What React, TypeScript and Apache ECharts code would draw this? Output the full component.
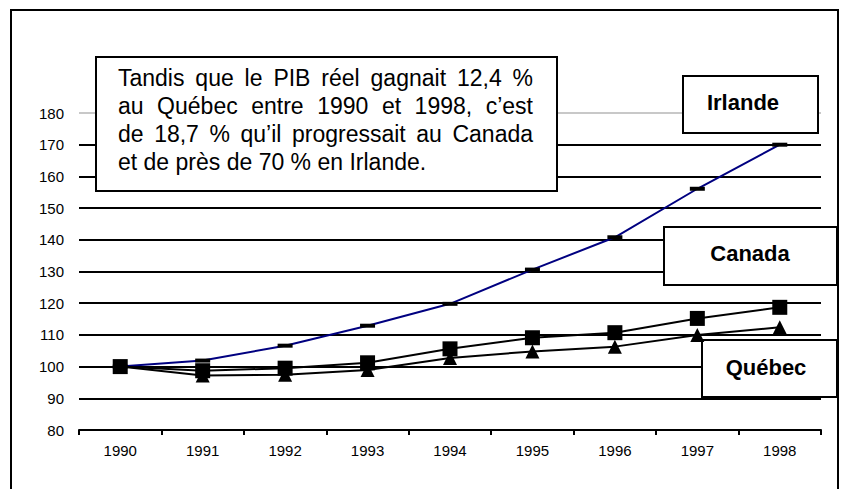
import React, { useEffect, useRef } from "react";
import * as echarts from "echarts";

const years = ["1990", "1991", "1992", "1993", "1994", "1995", "1996", "1997", "1998"];
const irlande = [100, 101.9, 106.6, 112.9, 119.8, 130.6, 140.8, 156.1, 170];
const canada = [100, 98.7, 99.5, 101.2, 105.6, 109.1, 110.7, 115.2, 118.7];
const quebec = [100, 97.2, 97.4, 98.9, 102.7, 104.8, 106.3, 110, 112.4];

const noteLines = [
  "Tandis que le PIB réel gagnait 12,4 %",
  "au Québec entre 1990 et 1998, c’est",
  "de 18,7 % qu’il progressait au Canada",
  "et de près de 70 % en Irlande.",
];
const seriesLabels = ["Irlande", "Canada", "Québec"];

const FONT = '"Liberation Sans", Arial, Helvetica, sans-serif';

export default function App() {
  const ref = useRef<HTMLDivElement>(null);
  useEffect(() => {
    if (!ref.current) return;
    const chart = echarts.init(ref.current, null, { renderer: "svg" });

    const noteSize = 23;
    const canvas = document.createElement("canvas");
    const ctx = canvas.getContext("2d")!;
    ctx.font = `${noteSize}px "Liberation Sans"`;
    const left = 118;
    const right = 533;
    const baseY = [89, 117, 145, 173];
    const noteEls: any[] = [];
    noteLines.forEach((line, i) => {
      const words = line.split(" ");
      const widths = words.map((w) => ctx.measureText(w).width);
      const total = widths.reduce((a, b) => a + b, 0);
      const justify = i < noteLines.length - 1;
      const gap = justify ? (right - left - total) / (words.length - 1) : ctx.measureText(" ").width;
      let x = left;
      words.forEach((w, j) => {
        noteEls.push({
          type: "text",
          x,
          y: baseY[i],
          z: 10,
          style: {
            text: w,
            fill: "#000",
            font: `${noteSize}px ${FONT}`,
            textAlign: "left",
            textVerticalAlign: "bottom",
            verticalAlign: "bottom",
          },
        });
        x += widths[j] + gap;
      });
    });

    const boxes = [
      { x: 683, y: 76, w: 135, h: 57, cx: 743, cy: 102, label: seriesLabels[0] },
      { x: 664, y: 227, w: 173, h: 58, cx: 750, cy: 253, label: seriesLabels[1] },
      { x: 702, y: 340, w: 135, h: 57, cx: 766, cy: 367, label: seriesLabels[2] },
    ];
    const boxEls: any[] = [];
    boxes.forEach((b) => {
      boxEls.push({
        type: "rect",
        z: 1,
        shape: { x: b.x, y: b.y, width: b.w, height: b.h },
        style: { fill: "#fff", stroke: "#000", lineWidth: 2 },
      });
      boxEls.push({
        type: "text",
        z: 10,
        x: b.cx,
        y: b.cy,
        style: {
          text: b.label,
          fill: "#000",
          font: `bold 22px ${FONT}`,
          textAlign: "center",
          textVerticalAlign: "middle",
          verticalAlign: "middle",
        },
      });
    });

    const splitColors = ["#000", "#000", "#000", "#000", "#000", "#000", "#000", "#000", "#000", "#000", "#c8c8c8"];

    chart.setOption({
      animation: false,
      backgroundColor: "#fff",
      grid: { left: 79, right: 27, top: 113, bottom: 59, containLabel: false, outerBoundsMode: "none" },
      xAxis: {
        type: "category",
        data: years,
        boundaryGap: true,
        axisLine: { show: true, lineStyle: { color: "#000", width: 2 } },
        axisTick: { show: true, length: 5, lineStyle: { color: "#000", width: 2 } },
        axisLabel: { color: "#000", fontSize: 15, fontFamily: FONT, margin: 13 },
        splitLine: { show: false },
      },
      yAxis: {
        type: "value",
        min: 80,
        max: 180,
        interval: 10,
        axisLine: { show: false },
        axisTick: { show: false },
        axisLabel: { color: "#000", fontSize: 15, fontFamily: FONT, margin: 15 },
        splitLine: { show: true, lineStyle: { color: splitColors, width: 2 } },
      },
      graphic: [
        {
          type: "rect",
          z: 0,
          shape: { x: 11, y: 10, width: 827, height: 500 },
          style: { fill: "none", stroke: "#000", lineWidth: 2 },
        },
        {
          type: "rect",
          z: 1,
          shape: { x: 96, y: 57, width: 461, height: 134 },
          style: { fill: "#fff", stroke: "#000", lineWidth: 2 },
        },
        ...boxEls,
        ...noteEls,
      ],
      series: [
        {
          name: "Irlande",
          type: "line",
          data: irlande,
          symbol: "rect",
          symbolSize: [15, 4],
          showAllSymbol: true,
          itemStyle: { color: "#000" },
          lineStyle: { color: "#000080", width: 2 },
          z: 3,
        },
        {
          name: "Québec",
          type: "line",
          data: quebec,
          symbol: "triangle",
          symbolSize: 14,
          showAllSymbol: true,
          itemStyle: { color: "#000" },
          lineStyle: { color: "#000", width: 2 },
          z: 4,
        },
        {
          name: "Canada",
          type: "line",
          data: canada,
          symbol: "rect",
          symbolSize: 15,
          showAllSymbol: true,
          itemStyle: { color: "#000" },
          lineStyle: { color: "#000", width: 2 },
          z: 5,
        },
      ],
    });
    return () => chart.dispose();
  }, []);
  return (
    <div
      ref={ref}
      style={{ position: "fixed", left: 0, top: 0, width: 848, height: 489, background: "#fff" }}
    />
  );
}
